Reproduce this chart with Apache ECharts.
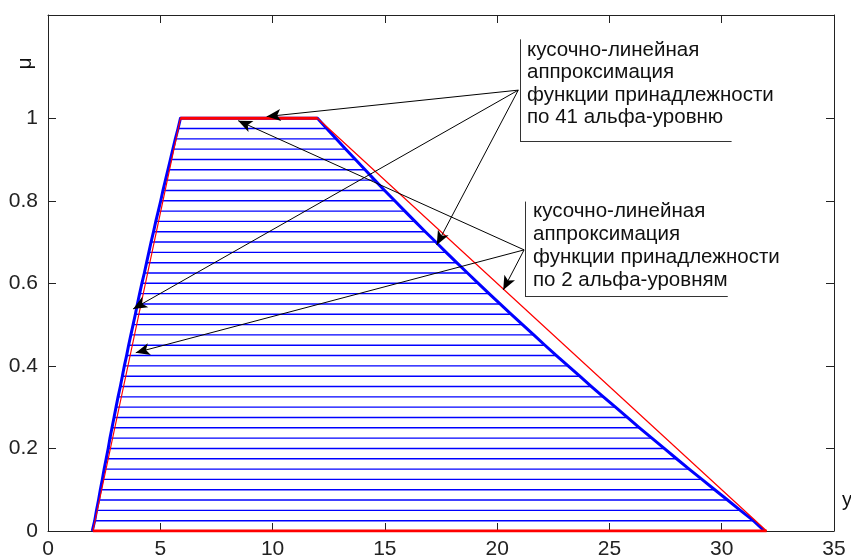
<!DOCTYPE html>
<html>
<head>
<meta charset="utf-8">
<script src="https://cdn.jsdelivr.net/npm/echarts@6/dist/echarts.min.js"></script>
<style>
html,body{margin:0;padding:0;background:#fff;}
#chart{width:851px;height:555px;}
</style>
</head>
<body>
<div id="chart"></div>
<script>
// alpha levels (41)
const levels = [0, 0.025, 0.05, 0.075, 0.1, 0.125, 0.15, 0.175, 0.2, 0.225,
  0.25, 0.275, 0.3, 0.325, 0.35, 0.375, 0.4, 0.425, 0.45, 0.475,
  0.5, 0.525, 0.55, 0.575, 0.6, 0.625, 0.65, 0.675, 0.7, 0.725,
  0.75, 0.775, 0.8, 0.825, 0.85, 0.875, 0.9, 0.925, 0.95, 0.975, 1];
// left / right borders of the 41-level approximation
const blueLeft = [1.97, 2.08, 2.16, 2.25, 2.33, 2.42, 2.50, 2.59, 2.68, 2.76,
  2.85, 2.94, 3.03, 3.12, 3.22, 3.31, 3.40, 3.50, 3.59, 3.69,
  3.79, 3.89, 3.98, 4.08, 4.18, 4.29, 4.39, 4.49, 4.59, 4.70,
  4.80, 4.91, 5.02, 5.12, 5.23, 5.34, 5.45, 5.56, 5.67, 5.79, 5.90];
const blueRight = [31.90, 31.41, 30.83, 30.26, 29.69, 29.12, 28.55, 27.99, 27.44, 26.89,
  26.34, 25.80, 25.27, 24.73, 24.20, 23.68, 23.16, 22.64, 22.13, 21.63,
  21.13, 20.63, 20.13, 19.64, 19.16, 18.68, 18.20, 17.73, 17.27, 16.80,
  16.34, 15.89, 15.44, 14.99, 14.55, 14.12, 13.69, 13.26, 12.83, 12.41, 12.00];
// 2-level approximation (trapezoid)
const redX = [2, 5.9, 12, 32];
const redMu = [0, 1, 1, 0];
// axis ticks
const xTicks = [0, 5, 10, 15, 20, 25, 30, 35];
const yTicks = [0, 0.2, 0.4, 0.6, 0.8, 1];
// annotations
const note1 = ['кусочно-линейная', 'аппроксимация', 'функции принадлежности', 'по 41 альфа-уровню'];
const note2 = ['кусочно-линейная', 'аппроксимация', 'функции принадлежности', 'по 2 альфа-уровням'];
const tail1 = [20.94, 1.068];
const tips1 = [[9.74, 1.004], [3.79, 0.538], [17.31, 0.693]];
const tail2 = [21.20, 0.681];
const tips2 = [[8.47, 0.994], [3.91, 0.432], [20.27, 0.584]];
const frame1 = [[21.02, 1.191], [21.02, 0.943], [30.44, 0.943]];
const frame2 = [[21.24, 0.798], [21.24, 0.568], [30.27, 0.568]];

const FONT = '"Liberation Sans", Arial, sans-serif';
const chart = echarts.init(document.getElementById('chart'), null, {renderer: 'canvas'});

const hlineData = levels.map((m, i) => [blueLeft[i], blueRight[i], m]);
const bluePoly = levels.map((m, i) => [blueLeft[i], m])
  .concat(levels.map((m, i) => [blueRight[levels.length - 1 - i], levels[levels.length - 1 - i]]));
const redPoly = redX.map((x, i) => [x, redMu[i]]);

const arrowItems = [];
tips1.forEach(t => arrowItems.push([{coord: tail1, symbol: 'none'}, {coord: t, symbol: 'arrow'}]));
tips2.forEach(t => arrowItems.push([{coord: tail2, symbol: 'none'}, {coord: t, symbol: 'arrow'}]));
[frame1, frame2].forEach(f => {
  for (let k = 0; k < f.length - 1; k++) {
    arrowItems.push([{coord: f[k], symbol: 'none'}, {coord: f[k + 1], symbol: 'none', lineStyle: {color: '#333'}}]);
  }
});

const axisLineStyle = {lineStyle: {color: '#222', width: 1}, onZero: false};
const gridCfg = {left: 48, right: 17, top: 15, bottom: 24, outerBoundsMode: 'none', containLabel: false};

const graphics = [];
note1.forEach((t, i) => graphics.push({type: 'text', x: 527, y: 50.2 + i * 22.5,
  style: {text: t, font: '20.5px ' + FONT, fill: '#111', verticalAlign: 'middle'}}));
note2.forEach((t, i) => graphics.push({type: 'text', x: 533, y: 211.8 + i * 22.8,
  style: {text: t, font: '20.5px ' + FONT, fill: '#111', verticalAlign: 'middle'}}));
graphics.push({type: 'text', x: 842, y: 500.5,
  style: {text: 'y', font: '20px ' + FONT, fill: '#111', verticalAlign: 'middle'}});
graphics.push({type: 'text', x: 25, y: 63.5, rotation: Math.PI / 2,
  style: {text: 'μ', font: '21px ' + FONT, fill: '#111', align: 'center', verticalAlign: 'middle'}});

chart.setOption({
  animation: false,
  backgroundColor: '#fff',
  grid: gridCfg,
  xAxis: [
    {type: 'value', min: xTicks[0], max: xTicks[xTicks.length - 1], interval: 5, position: 'bottom',
     axisLine: axisLineStyle, splitLine: {show: false},
     axisTick: {inside: true, length: 8, lineStyle: {color: '#222'}},
     axisLabel: {color: '#222', fontSize: 21, fontFamily: FONT, margin: 8, lineHeight: 21}},
    {type: 'value', min: xTicks[0], max: xTicks[xTicks.length - 1], interval: 5, position: 'top',
     axisLine: axisLineStyle, splitLine: {show: false},
     axisTick: {inside: true, length: 8, lineStyle: {color: '#222'}},
     axisLabel: {show: false}}
  ],
  yAxis: [
    {type: 'value', min: 0, max: 1.25, position: 'left',
     axisLine: axisLineStyle, splitLine: {show: false},
     axisTick: {inside: true, length: 8, customValues: yTicks, lineStyle: {color: '#222'}},
     axisLabel: {color: '#222', fontSize: 21, fontFamily: FONT, margin: 10, customValues: yTicks}},
    {type: 'value', min: 0, max: 1.25, position: 'right',
     axisLine: axisLineStyle, splitLine: {show: false},
     axisTick: {inside: true, length: 8, customValues: yTicks, lineStyle: {color: '#222'}},
     axisLabel: {show: false}}
  ],
  series: [
    {type: 'custom', name: 'levels', xAxisIndex: 0, yAxisIndex: 0, z: 1,
     data: hlineData, encode: {x: [0, 1], y: 2},
     renderItem: function (params, api) {
       const m = api.value(2);
       const p1 = api.coord([api.value(0), m]);
       const p2 = api.coord([api.value(1), m]);
       return {type: 'line', shape: {x1: p1[0], y1: p1[1], x2: p2[0], y2: p2[1]},
               style: {stroke: '#0000ff', lineWidth: 1.4}};
     }},
    {type: 'line', name: 'blue', data: bluePoly, z: 2, symbol: 'none', silent: true,
     lineStyle: {color: '#0000ff', width: 3, join: 'round'}},
    {type: 'line', name: 'red', data: redPoly, z: 3, symbol: 'none', silent: true,
     lineStyle: {color: '#ff0000', width: 1.2}},
    {type: 'line', name: 'red0', data: [redPoly[0], redPoly[3]], z: 4, symbol: 'none', silent: true,
     lineStyle: {color: '#ff0000', width: 3}},
    {type: 'line', name: 'red1', data: [redPoly[1], redPoly[2]], z: 4, symbol: 'none', silent: true,
     lineStyle: {color: '#ff0000', width: 3}},
    {type: 'line', name: 'notes', data: [], z: 10, symbol: 'none',
     markLine: {silent: true, animation: false, symbolSize: [9, 14], label: {show: false},
       lineStyle: {color: '#000', width: 1, type: 'solid'}, emphasis: {disabled: true},
       data: arrowItems}}
  ],
  graphic: graphics
});
</script>
</body>
</html>
